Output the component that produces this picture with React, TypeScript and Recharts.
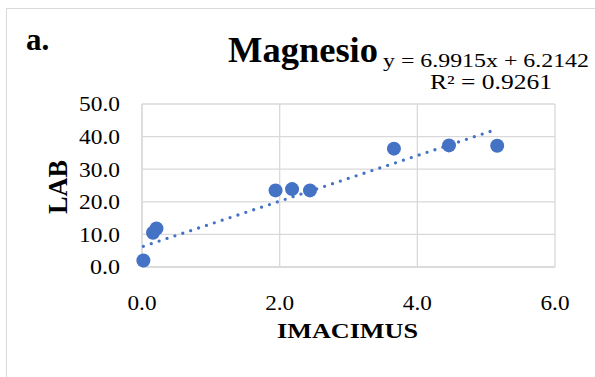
import { ScatterChart, Scatter, XAxis, YAxis, CartesianGrid } from "recharts";

// IMACIMUS (x) vs LAB (y)
const imacimus = [0.02, 0.16, 0.21, 1.94, 2.18, 2.44, 3.66, 4.46, 5.16];
const lab = [2.0, 10.5, 11.8, 23.5, 23.9, 23.5, 36.3, 37.3, 37.2];

const xTicks = [0, 2, 4, 6];
const yTicks = [0, 10, 20, 30, 40, 50];

// linear trendline shown on the chart
const slope = 6.9915;
const intercept = 6.2142;

const points = imacimus.map((x, i) => ({ x, y: lab[i] }));
const xMin = Math.min(...imacimus);
const xMax = Math.max(...imacimus);
const trend = [
  { x: xMin, y: slope * xMin + intercept },
  { x: xMax, y: slope * xMax + intercept },
];

const FONT = "'Liberation Serif', 'Times New Roman', serif";
const BLUE = "#4472C4";
const GRID = "#d9d9d9";

const YTick = (props: any) => {
  const { x, y, payload } = props;
  return (
    <text
      x={x}
      y={y + 7.3}
      textAnchor="end"
      fontFamily={FONT}
      fontSize={21}
      fill="#000"
      textLength={payload.value >= 10 ? 41 : 30}
      lengthAdjust="spacingAndGlyphs"
    >
      {payload.value.toFixed(1)}
    </text>
  );
};

const XTick = (props: any) => {
  const { x, y, payload } = props;
  return (
    <text
      x={x}
      y={y + 41}
      textAnchor="middle"
      fontFamily={FONT}
      fontSize={21}
      fill="#000"
      textLength={29}
      lengthAdjust="spacingAndGlyphs"
    >
      {payload.value.toFixed(1)}
    </text>
  );
};

const Dot = (props: any) => <circle cx={props.cx} cy={props.cy} r={7} fill={BLUE} />;

export default function App() {
  return (
    <div
      style={{
        position: "absolute",
        left: 0,
        top: 0,
        width: 595,
        height: 377,
        overflow: "hidden",
        background: "#fff",
      }}
    >
      <div
        style={{
          position: "absolute",
          left: 6,
          top: 8,
          width: 650,
          height: 450,
          border: `1.5px solid ${GRID}`,
        }}
      />
      <div style={{ position: "absolute", left: 0, top: 0 }}>
        <ScatterChart
          width={595}
          height={377}
          margin={{ top: 104, right: 40, bottom: 0, left: 0 }}
        >
          <CartesianGrid stroke={GRID} strokeWidth={1.3} />
          <XAxis
            type="number"
            dataKey="x"
            domain={[0, 6]}
            ticks={xTicks}
            height={110}
            tickSize={0}
            tickLine={false}
            axisLine={{ stroke: GRID, strokeWidth: 1.3 }}
            tick={<XTick />}
          />
          <YAxis
            type="number"
            dataKey="y"
            domain={[0, 50]}
            ticks={yTicks}
            width={142}
            tickSize={0}
            tickMargin={22}
            tickLine={false}
            axisLine={{ stroke: GRID, strokeWidth: 1.3 }}
            tick={<YTick />}
          />
          <Scatter
            data={points}
            fill={BLUE}
            shape={<Dot />}
            isAnimationActive={false}
          />
          <Scatter
            data={trend}
            fill="none"
            line={{
              stroke: BLUE,
              strokeWidth: 3.3,
              strokeDasharray: "0 8.3",
              strokeLinecap: "round",
            }}
            shape={() => <g />}
            isAnimationActive={false}
          />
          <text x={26} y={50} fontFamily={FONT} fontWeight="bold" fontSize={31} fill="#000">
            a.
          </text>
          <text
            x={228}
            y={62}
            fontFamily={FONT}
            fontWeight="bold"
            fontSize={35}
            fill="#000"
            textLength={150}
            lengthAdjust="spacingAndGlyphs"
          >
            Magnesio
          </text>
          <text
            x={383}
            y={67}
            fontFamily={FONT}
            fontSize={19}
            fill="#000"
            textLength={206}
            lengthAdjust="spacingAndGlyphs"
          >
            y = 6.9915x + 6.2142
          </text>
          <text
            x={430}
            y={89}
            fontFamily={FONT}
            fontSize={20}
            fill="#000"
            textLength={122}
            lengthAdjust="spacingAndGlyphs"
          >
            R² = 0.9261
          </text>
          <text
            x={277}
            y={338}
            fontFamily={FONT}
            fontWeight="bold"
            fontSize={22}
            fill="#000"
            textLength={141}
            lengthAdjust="spacingAndGlyphs"
          >
            IMACIMUS
          </text>
          <text
            transform="translate(66.5,187) rotate(-90)"
            textAnchor="middle"
            fontFamily={FONT}
            fontWeight="bold"
            fontSize={27}
            fill="#000"
            textLength={54}
            lengthAdjust="spacingAndGlyphs"
          >
            LAB
          </text>
        </ScatterChart>
      </div>
    </div>
  );
}
